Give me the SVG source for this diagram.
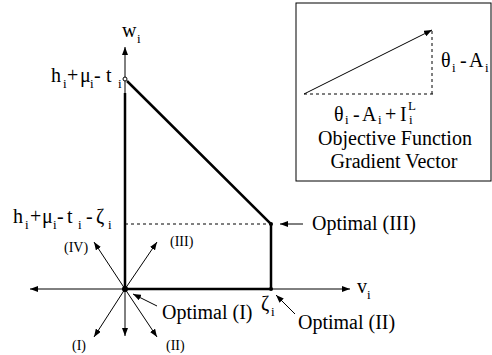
<svg xmlns="http://www.w3.org/2000/svg" width="492" height="355" viewBox="0 0 492 355">
<defs>
<marker id="ah" markerWidth="8" markerHeight="6" refX="8" refY="3" orient="auto" markerUnits="userSpaceOnUse">
<path d="M0,0 L8,3 L0,6 z" fill="#000"/>
</marker>
<style>
.t{font-size:20px;fill:#000}
.s{font-size:13px}
.r{font-size:14px;fill:#000}
.thin{stroke:#000;stroke-width:1;fill:none}
.thick{stroke:#000;stroke-width:2.5;fill:none}
.dash{stroke:#000;stroke-width:1;stroke-dasharray:3,3;fill:none}
</style>
</defs>
<rect width="492" height="355" fill="#fff"/>
<g id="connectors">
<line class="thin" x1="125" y1="289" x2="350" y2="289" marker-end="url(#ah)"/>
<line class="thin" x1="125" y1="289" x2="30" y2="289" marker-end="url(#ah)"/>
<line class="thin" x1="125" y1="289" x2="125" y2="47" marker-end="url(#ah)"/>
<line class="thin" x1="125" y1="289" x2="125" y2="336" marker-end="url(#ah)"/>
<line class="thin" x1="125" y1="289" x2="157" y2="242" marker-end="url(#ah)"/>
<line class="thin" x1="125" y1="289" x2="94" y2="242" marker-end="url(#ah)"/>
<line class="thin" x1="125" y1="289" x2="94" y2="337" marker-end="url(#ah)"/>
<line class="thin" x1="125" y1="289" x2="157" y2="337" marker-end="url(#ah)"/>
<path class="thick" d="M125,93 L125,289 L271,289 L271,224 L127,81"/>
<line class="dash" x1="125" y1="224" x2="271" y2="224"/>
<line class="thin" x1="303" y1="224" x2="280" y2="224" marker-end="url(#ah)"/>
<line class="thin" x1="157" y1="306" x2="133" y2="294" marker-end="url(#ah)"/>
<line class="thin" x1="295" y1="314" x2="276" y2="295" marker-end="url(#ah)"/>
</g>
<g id="points">
<circle cx="125" cy="79" r="2" fill="#fff" stroke="#000" stroke-width="1"/>
<circle cx="125" cy="289" r="3" fill="#000"/>
<circle cx="271" cy="289" r="2" fill="#000"/>
<circle cx="271" cy="224" r="2" fill="#000"/>
</g>
<g font-family="Liberation Serif, Times New Roman, serif">
<g id="axis-labels">
<text class="t"><tspan x="122" y="37">w</tspan><tspan class="s" x="137" y="43">i</tspan></text>
<text class="t"><tspan x="357" y="293">v</tspan><tspan class="s" x="367" y="299">i</tspan></text>
<text class="t"><tspan x="261" y="310">ζ</tspan><tspan class="s" x="271" y="316">i</tspan></text>
<text class="t" font-size="21"><tspan x="51" y="82">h</tspan><tspan class="s" x="63" y="88">i</tspan><tspan x="67" y="82">+</tspan><tspan x="80" y="82">μ</tspan><tspan class="s" x="90" y="88">i</tspan><tspan x="94" y="82">-</tspan><tspan x="106" y="82">t</tspan><tspan class="s" x="118" y="88">i</tspan></text>
<text class="t"><tspan x="13" y="223">h</tspan><tspan class="s" x="25" y="229">i</tspan><tspan x="30" y="223">+</tspan><tspan x="42" y="223">μ</tspan><tspan class="s" x="53" y="229">i</tspan><tspan x="57" y="223">-</tspan><tspan x="67" y="223">t</tspan><tspan class="s" x="78" y="229">i</tspan><tspan x="86" y="223">-</tspan><tspan x="96" y="223">ζ</tspan><tspan class="s" x="108" y="229">i</tspan></text>
</g>
<g id="direction-labels">
<text class="r" x="64" y="252">(IV)</text>
<text class="r" x="170" y="246">(III)</text>
<text class="r" x="72" y="350">(I)</text>
<text class="r" x="166" y="350">(II)</text>
</g>
<g id="optimal-labels">
<text class="t" x="162" y="319">Optimal (I)</text>
<text class="t" x="298" y="329">Optimal (II)</text>
<text class="t" x="312" y="230">Optimal (III)</text>
</g>
<g id="gradient-box">
<rect x="296" y="3" width="195" height="178" fill="none" stroke="#000" stroke-width="1"/>
<line class="thin" x1="304" y1="94" x2="432" y2="30" marker-end="url(#ah)"/>
<line class="dash" x1="304" y1="94" x2="433" y2="94"/>
<line class="dash" x1="432" y1="31" x2="432" y2="94"/>
<text class="t"><tspan x="441" y="67">θ</tspan><tspan class="s" x="452" y="72">i</tspan><tspan x="460" y="67">-</tspan><tspan x="469" y="67">A</tspan><tspan class="s" x="485" y="72">i</tspan></text>
<text class="t"><tspan x="334" y="121">θ</tspan><tspan class="s" x="345" y="124" font-size="12">i</tspan><tspan x="353" y="121">-</tspan><tspan x="362" y="121">A</tspan><tspan class="s" x="378" y="124" font-size="12">i</tspan><tspan x="385" y="121">+</tspan><tspan x="400" y="121">I</tspan><tspan class="s" x="408" y="110" font-size="12">L</tspan><tspan class="s" x="409" y="124" font-size="12">i</tspan></text>
<text class="t" x="395" y="145" text-anchor="middle">Objective Function</text>
<text class="t" x="394" y="168" text-anchor="middle">Gradient Vector</text>
</g>
</g>
</svg>
